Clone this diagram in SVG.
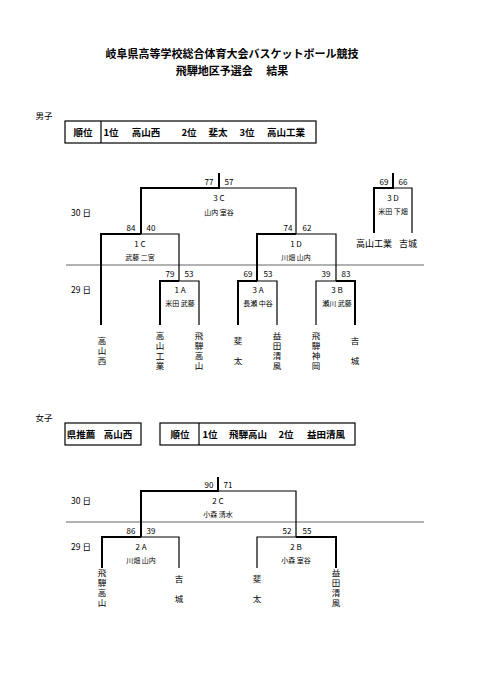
<svg xmlns="http://www.w3.org/2000/svg" width="481" height="680" viewBox="0 0 481 680">
<style>
text{font-family:"Noto Sans CJK JP","Liberation Sans",sans-serif;fill:#000;dominant-baseline:central;text-anchor:middle}
.t{font-size:11px;font-weight:bold}
.b{font-size:9.5px;font-weight:bold}
.s{font-size:8.5px}
.n{font-size:8px}
.r{font-size:7px}
.nm{font-size:9px}
.v{font-size:8.5px;writing-mode:vertical-rl;text-anchor:start;letter-spacing:1.5px}
.v2{font-size:8.5px;writing-mode:vertical-rl;text-anchor:start;letter-spacing:11.5px}
.w{fill:none;stroke:#000;stroke-width:2}
.l{fill:none;stroke:#000;stroke-width:1.2}
.g{stroke:#999;stroke-width:1.5}
.box{fill:none;stroke:#000;stroke-width:1.2}
</style>
<rect width="481" height="680" fill="#fff"/>
<g id="title">
<text class="t" x="232" y="53">岐阜県高等学校総合体育大会バスケットボール競技</text>
<text class="t" x="232" y="70">飛騨地区予選会　 結果</text>
</g>
<g id="men-header">
<text class="s" x="44" y="115">男子</text>
<rect class="box" x="65" y="121" width="251" height="22"/>
<line class="box" x1="101" y1="121" x2="101" y2="143"/>
<text class="b" x="83" y="132">順位</text>
<text class="b" x="111" y="132">1位</text>
<text class="b" x="146" y="132">高山西</text>
<text class="b" x="189" y="132">2位</text>
<text class="b" x="218" y="132">斐太</text>
<text class="b" x="247" y="132">3位</text>
<text class="b" x="286" y="132">高山工業</text>
</g>
<g id="connectors">
<line class="g" x1="66" y1="265" x2="424" y2="265"/>
<line class="g" x1="66" y1="522" x2="424" y2="522"/>
<polyline class="w" points="219,173 219,188 141,188 141,234"/>
<polyline class="l" points="219,188 296,188 296,234"/>
<polyline class="w" points="141,234 101,234 101,325"/>
<polyline class="l" points="141,234 179,234 179,281"/>
<polyline class="w" points="179,281 160,281 160,325"/>
<polyline class="l" points="179,281 199,281 199,325"/>
<polyline class="w" points="296,234 257,234 257,281"/>
<polyline class="l" points="296,234 336,234 336,281"/>
<polyline class="w" points="257,281 238,281 238,325"/>
<polyline class="l" points="257,281 277,281 277,325"/>
<polyline class="l" points="336,281 316,281 316,325"/>
<polyline class="w" points="336,281 355,281 355,325"/>
<polyline class="w" points="393,173 393,188 374,188 374,233"/>
<polyline class="l" points="393,188 412,188 412,233"/>
<polyline class="w" points="218,477 218,491 141,491 141,537"/>
<polyline class="l" points="218,491 296,491 296,537"/>
<polyline class="w" points="141,537 102,537 102,568"/>
<polyline class="l" points="141,537 179,537 179,568"/>
<polyline class="l" points="296,537 257,537 257,568"/>
<polyline class="w" points="296,537 336,537 336,568"/>
</g>
<g id="men-days">
<text class="s" x="81" y="212">30 日</text>
<text class="s" x="81" y="289">29 日</text>
</g>
<g id="game-3C">
<text class="n" x="209" y="181">77</text><text class="n" x="229" y="181">57</text>
<text class="n" x="219" y="197">3 C</text>
<text class="r" x="219" y="212">山内  室谷</text>
</g>
<g id="game-3D">
<text class="n" x="384" y="181">69</text><text class="n" x="403" y="181">66</text>
<text class="n" x="393" y="197">3 D</text>
<text class="r" x="393" y="211">米田  下畑</text>
<text class="nm" x="374" y="243">高山工業</text>
<text class="nm" x="408" y="243">吉城</text>
</g>
<g id="game-1C">
<text class="n" x="131" y="227">84</text><text class="n" x="151" y="227">40</text>
<text class="n" x="140" y="243">1 C</text>
<text class="r" x="140" y="257">武藤  二宮</text>
</g>
<g id="game-1D">
<text class="n" x="288" y="227">74</text><text class="n" x="307" y="227">62</text>
<text class="n" x="296" y="243">1 D</text>
<text class="r" x="296" y="257">川畑  山内</text>
</g>
<g id="game-1A">
<text class="n" x="170" y="273">79</text><text class="n" x="189" y="273">53</text>
<text class="n" x="180" y="289">1 A</text>
<text class="r" x="180" y="303">米田  武藤</text>
</g>
<g id="game-3A">
<text class="n" x="248" y="273">69</text><text class="n" x="268" y="273">53</text>
<text class="n" x="258" y="289">3 A</text>
<text class="r" x="258" y="303">長瀬  中谷</text>
</g>
<g id="game-3B">
<text class="n" x="326" y="273">39</text><text class="n" x="346" y="273">83</text>
<text class="n" x="337" y="289">3 B</text>
<text class="r" x="337" y="303">瀬川  武藤</text>
</g>
<g id="men-teams">
<text class="v" x="102" y="337">高山西</text>
<text class="v" x="160" y="332">高山工業</text>
<text class="v" x="199" y="332">飛騨高山</text>
<text class="v2" x="238" y="337">斐太</text>
<text class="v" x="277" y="332">益田清風</text>
<text class="v" x="316" y="332">飛騨神岡</text>
<text class="v2" x="355" y="337">吉城</text>
</g>
<g id="women-header">
<text class="s" x="44" y="417">女子</text>
<rect class="box" x="65" y="423" width="76" height="22"/>
<text class="b" x="81" y="434">県推薦</text>
<text class="b" x="118" y="434">高山西</text>
<rect class="box" x="160" y="423" width="195" height="22"/>
<line class="box" x1="199" y1="423" x2="199" y2="445"/>
<text class="b" x="180" y="434">順位</text>
<text class="b" x="210" y="434">1位</text>
<text class="b" x="248" y="434">飛騨高山</text>
<text class="b" x="286" y="434">2位</text>
<text class="b" x="326" y="434">益田清風</text>
</g>
<g id="women-days">
<text class="s" x="81" y="500">30 日</text>
<text class="s" x="81" y="546">29 日</text>
</g>
<g id="game-2C">
<text class="n" x="209" y="484">90</text><text class="n" x="228" y="484">71</text>
<text class="n" x="218" y="500">2 C</text>
<text class="r" x="218" y="514">小森  清水</text>
</g>
<g id="game-2A">
<text class="n" x="131" y="530">86</text><text class="n" x="151" y="530">39</text>
<text class="n" x="141" y="546">2 A</text>
<text class="r" x="141" y="560">川畑  山内</text>
</g>
<g id="game-2B">
<text class="n" x="287" y="530">52</text><text class="n" x="307" y="530">55</text>
<text class="n" x="296" y="546">2 B</text>
<text class="r" x="296" y="560">小森  室谷</text>
</g>
<g id="women-teams">
<text class="v" x="102" y="569">飛騨高山</text>
<text class="v2" x="179" y="575">吉城</text>
<text class="v2" x="257" y="575">斐太</text>
<text class="v" x="336" y="569">益田清風</text>
</g>
</svg>
